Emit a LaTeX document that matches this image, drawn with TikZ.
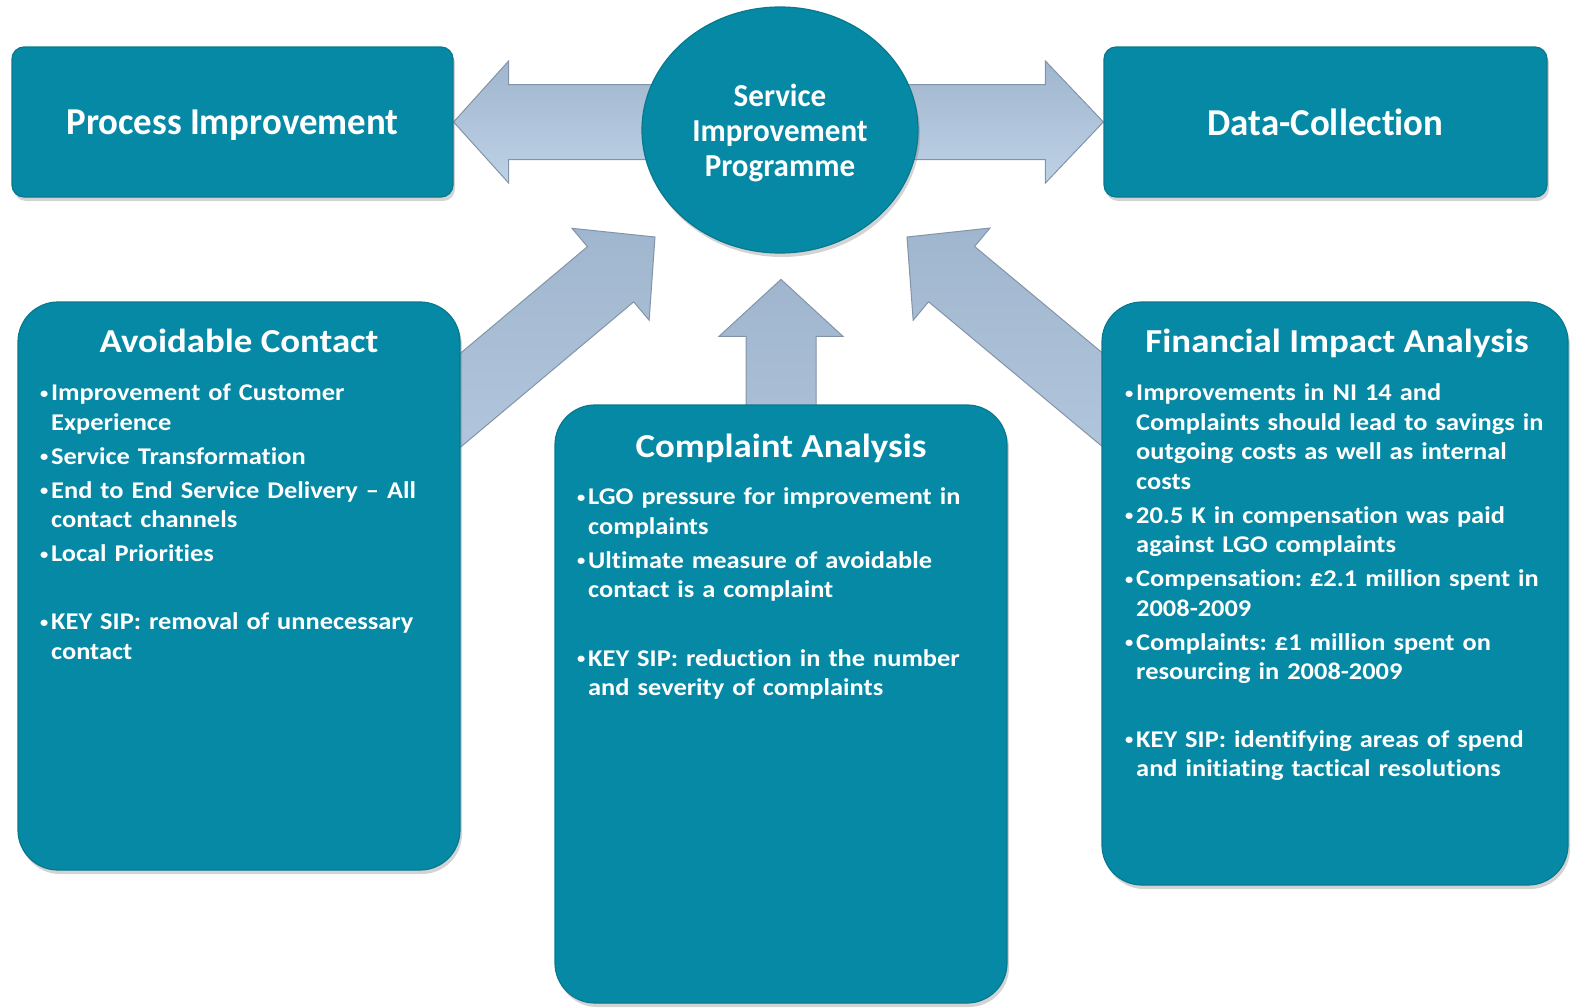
\documentclass[tikz,border=0pt]{standalone}
\usepackage{fontspec}
\setmainfont{Carlito}[Ligatures=NoCommon]
\newfontfamily\topfont{Carlito}[FakeStretch=0.97, Ligatures=NoCommon]
\newfontfamily\boxfont{Carlito}[FakeStretch=1.1, Ligatures=NoCommon]
\usetikzlibrary{shapes.geometric, shadows, calc, backgrounds}
\frenchspacing

\definecolor{panelteal}{HTML}{0689A5}
\definecolor{paneledge}{HTML}{08788F}
\definecolor{flowtop}{HTML}{A0B6CE}
\definecolor{flowbot}{HTML}{BED2E6}
\definecolor{flowedge}{HTML}{8294A8}

% one bullet line with hanging indent, optional space above
\newcommand\itm[2][4.5pt]{\par\vskip#1\relax\noindent\hangindent=12pt\hangafter=1\relax
  \makebox[12pt][l]{\hspace{1pt}\raisebox{2.5pt}{\fontsize{15}{15}\selectfont •}}#2}
% text lowered a little, box size kept
\newcommand\low[1]{\raisebox{-3pt}[\height][\depth]{#1}}
% block arrow: tail, tip, shaft half width, head half width, head length
\newcommand\blockarrow[5]{%
  \coordinate (hb) at ($(#2)!#5!(#1)$);
  \draw[flow] ($(#1)!#3!90:(#2)$) -- ($(hb)!#3!90:(#2)$) -- ($(hb)!#4!90:(#2)$)
    -- (#2) -- ($(hb)!#4!-90:(#2)$) -- ($(hb)!#3!-90:(#2)$) -- ($(#1)!#3!-90:(#2)$) -- cycle;}

\begin{document}
\begin{tikzpicture}[x=1pt, y=-1pt,
        panel/.style = {rectangle, rounded corners=#1, fill=panelteal, draw=paneledge, line width=1.2pt,
            drop shadow={opacity=0.35, shadow xshift=2pt, shadow yshift=-4pt}},
        panel/.default = 12pt,
        toptext/.style = {text=white, font=\topfont\bfseries\fontsize{38}{44}\selectfont},
        hub/.style = {ellipse, fill=panelteal, draw=paneledge, line width=1.2pt, align=center,
            minimum width=276pt, minimum height=246pt, text=white,
            font=\topfont\bfseries\fontsize{32}{35}\selectfont,
            drop shadow={opacity=0.35, shadow xshift=2pt, shadow yshift=-4pt}},
        boxtitle/.style = {anchor=base, text=white, inner sep=0pt, font=\boxfont\bfseries\fontsize{33.5}{40}\selectfont},
        body/.style = {anchor=north west, text width=470pt, align=left, text=white, inner sep=0pt,
            font=\boxfont\bfseries\fontsize{24}{29.5}\selectfont\frenchspacing},
        flow/.style = {draw=flowedge, line width=1pt, top color=flowtop, bottom color=flowbot}
        ]
        \useasboundingbox (0,0) rectangle (1572,1007);

        % top row
        \node (pi) at (232.5,122) [panel, minimum width=441pt, minimum height=150pt, toptext] {\low{Process Improvement}};
        \node (dc) at (1325.5,122) [panel, minimum width=443pt, minimum height=150pt, toptext] {Data-Collection};
        \node (sip) at (780,130) [hub] {\low{Service}\\\low{Improvement}\\\low{Programme}};

        % lower row
        \node (ac) at (239,586) [panel=40pt, minimum width=442pt, minimum height=568pt] {};
        \node (ca) at (781,704) [panel=40pt, minimum width=452pt, minimum height=598pt] {};
        \node (fa) at (1335,593.5) [panel=40pt, minimum width=466pt, minimum height=583pt] {};

        \node (acTitle) at ($(ac.north)+(0,51)$) [boxtitle] {Avoidable Contact};
        \node (caTitle) at ($(ca.north)+(0,53)$) [boxtitle] {Complaint Analysis};
        \node (faTitle) at ($(fa.north)+(2,51)$) [boxtitle] {Financial Impact Analysis};

        \node (acText) at (39,371) [body] {%
            \itm[0pt]{Improvement of Customer\newline Experience}
            \itm{Service Transformation}
            \itm{End to End Service Delivery – All\newline contact channels}
            \itm{Local Priorities}
            \itm[38.5pt]{KEY SIP: removal of unnecessary\newline contact}\par};
        \node (caText) at (576,475) [body] {%
            \itm[0pt]{LGO pressure for improvement in\newline complaints}
            \itm{Ultimate measure of avoidable\newline contact is a complaint}
            \itm[39pt]{KEY SIP: reduction in the number\newline and severity of complaints}\par};
        \node (faText) at (1124,371) [body] {%
            \itm[0pt]{Improvements in NI 14 and\newline Complaints should lead to savings in\newline outgoing costs as well as internal\newline costs}
            \itm{20.5 K in compensation was paid\newline against LGO complaints}
            \itm{Compensation: £2.1 million spent in\newline 2008-2009}
            \itm{Complaints: £1 million spent on\newline resourcing in 2008-2009}
            \itm[38pt]{KEY SIP: identifying areas of spend\newline and initiating tactical resolutions}\par};

        % arrow ends
        \coordinate (sipL) at (sip.center |- pi.east);
        \coordinate (sipR) at (sip.center |- dc.west);
        \coordinate (acTip) at ($(sip.center)+(-125,107)$);
        \coordinate (faTip) at ($(sip.center)+(127,107)$);
        \coordinate (caTip) at ($(ca.north)+(0,-125)$);

        \begin{scope}[on background layer]
            \blockarrow{sipL}{pi.east}{37.5pt}{61pt}{55pt}
            \blockarrow{sipR}{dc.west}{37.5pt}{61pt}{58pt}
            \blockarrow{ac.center}{acTip}{36pt}{60pt}{58pt}
            \blockarrow{fa.center}{faTip}{36pt}{60pt}{58pt}
            \blockarrow{ca.center}{caTip}{35pt}{62pt}{57pt}
        \end{scope}

    \end{tikzpicture}
\end{document}
